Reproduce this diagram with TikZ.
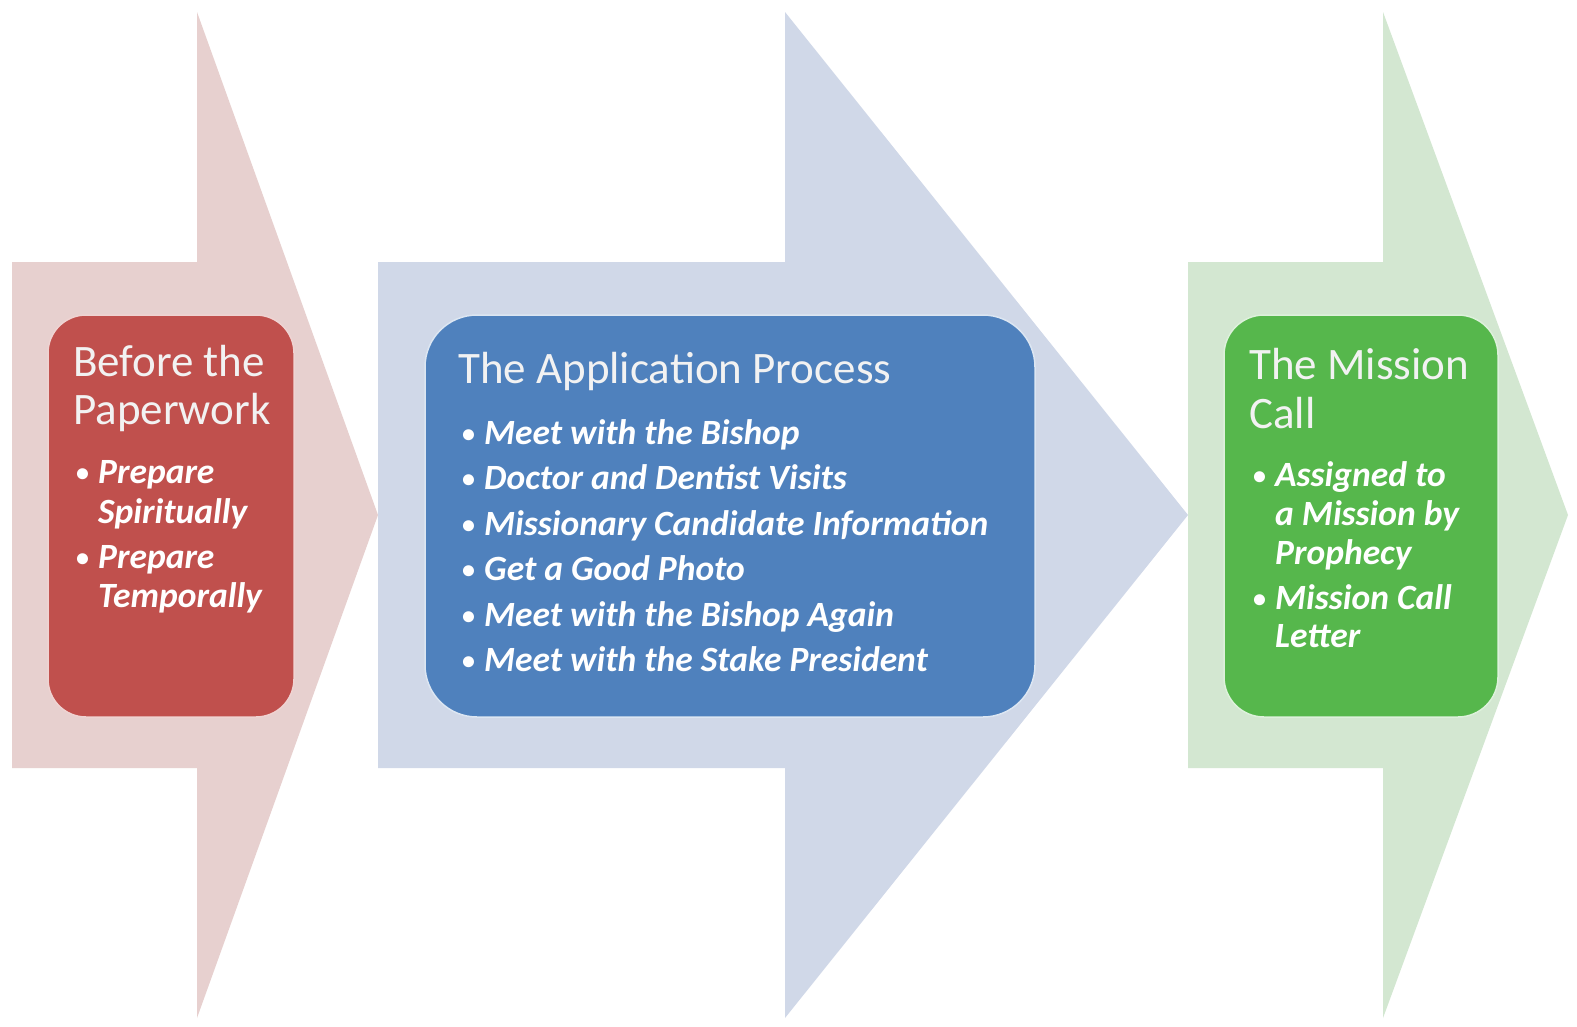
\documentclass[tikz,border=0pt]{standalone}
\usepackage{fontspec}
\setmainfont{Carlito}
\definecolor{redlight}{HTML}{E7D0CF}
\definecolor{bluelight}{HTML}{D0D8E8}
\definecolor{greenlight}{HTML}{D3E7D1}
\definecolor{redbox}{HTML}{C0504D}
\definecolor{bluebox}{HTML}{4F81BD}
\definecolor{greenbox}{HTML}{56B74C}
\definecolor{titlecol}{HTML}{F2F2F2}
\tikzset{
  stagebox/.style={rectangle, line width=1.5pt, inner sep=0pt},
  ttl/.style={anchor=base west, inner sep=0pt, text=titlecol, font=\fontsize{45}{48}\selectfont},
  itm/.style={anchor=base west, inner sep=0pt, text=white, font=\fontsize{35.5}{40}\selectfont\bfseries\itshape},
}
\newcommand{\bul}{\makebox[22pt][l]{\raisebox{2pt}{\upshape\fontsize{26}{26}\selectfont•}}}
\newcommand{\ind}{\hspace*{22pt}}
\begin{document}
\begin{tikzpicture}[x=1pt,y=-1pt]
\useasboundingbox (0,0) rectangle (1577,1026);
\fill[white] (0,0) rectangle (1577,1026);
% big arrows
\fill[redlight] (12,262) -- (197,262) -- (197,12) -- (378,515) -- (197,1018) -- (197,768) -- (12,768) -- cycle;
\fill[bluelight] (378,262) -- (785,262) -- (785,12) -- (1188,515) -- (785,1018) -- (785,768) -- (378,768) -- cycle;
\fill[greenlight] (1188,262) -- (1383,262) -- (1383,12) -- (1568,515) -- (1383,1018) -- (1383,768) -- (1188,768) -- cycle;
% stage boxes
\node[stagebox, fill=redbox, draw=redbox!25!white, rounded corners=38pt, minimum width=246pt, minimum height=402pt] (rbox) at (171,516) {};
\node[stagebox, fill=bluebox, draw=bluebox!20!white, rounded corners=52pt, minimum width=610pt, minimum height=402pt] (bbox) at (730,516) {};
\node[stagebox, fill=greenbox, draw=greenbox!20!white, rounded corners=40pt, minimum width=274pt, minimum height=402pt] (gbox) at (1361,516) {};
% red texts
\node[ttl] (r1) at (73,376) {Before the};
\node[ttl] (r2) at (73,424) {Paperwork};
\node[itm] (r3) at (76,483) {\bul Prepare};
\node[itm] (r4) at (76,523) {\ind Spiritually};
\node[itm] (r5) at (76,568) {\bul Prepare};
\node[itm] (r6) at (76,607) {\ind Temporally};
% blue texts
\node[ttl] (b1) at (458,383) {The Application Process};
\node[itm] (b2) at (462,444) {\bul Meet with the Bishop};
\node[itm] (b3) at (462,489.5) {\bul Doctor and Dentist Visits};
\node[itm] (b4) at (462,535) {\bul Missionary Candidate Information};
\node[itm] (b5) at (462,580.5) {\bul Get a Good Photo};
\node[itm] (b6) at (462,626) {\bul Meet with the Bishop Again};
\node[itm] (b7) at (462,671.5) {\bul Meet with the Stake President};
% green texts
\node[ttl] (g1) at (1249,379) {The Mission};
\node[ttl] (g2) at (1249,428) {Call};
\node[itm] (g3) at (1253,486) {\bul Assigned to};
\node[itm] (g4) at (1253,525) {\ind a Mission by};
\node[itm] (g5) at (1253,564) {\ind Prophecy};
\node[itm] (g6) at (1253,609) {\bul Mission Call};
\node[itm] (g7) at (1253,647) {\ind Letter};
\end{tikzpicture}
\end{document}
